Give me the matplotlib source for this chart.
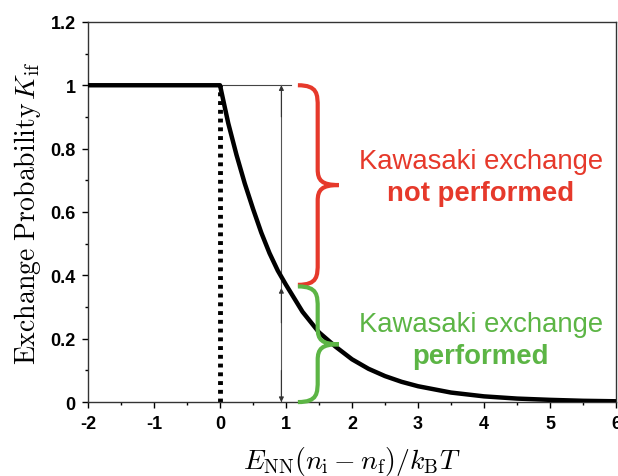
import numpy as np
import matplotlib
matplotlib.use('Agg')
import matplotlib.pyplot as plt
from matplotlib.path import Path
from matplotlib.patches import PathPatch
from matplotlib.ticker import MultipleLocator

plt.rcParams['mathtext.fontset'] = 'cm'
plt.rcParams['font.family'] = ['Liberation Sans', 'DejaVu Sans']

# Exchange probability vs. scaled energy change
energy = [-2.0, 0.0, 0.125, 0.25, 0.375, 0.5, 0.625, 0.75, 0.875, 1.0, 1.25, 1.5,
          1.75, 2.0, 2.25, 2.5, 2.75, 3.0, 3.5, 4.0, 4.5, 5.0, 5.5, 6.0]
prob = [1.0, 1.0, 0.88, 0.78, 0.69, 0.61, 0.535, 0.47, 0.415, 0.37, 0.285, 0.22,
        0.175, 0.135, 0.105, 0.082, 0.064, 0.05, 0.03, 0.018, 0.011, 0.007, 0.004, 0.0025]

# value where the exchange is cut off at E = 1
cut_value = 0.37
xticks = [-2, -1, 0, 1, 2, 3, 4, 5, 6]
yticks = [0, 0.2, 0.4, 0.6, 0.8, 1.0, 1.2]
ytick_labels = ['0', '0.2', '0.4', '0.6', '0.8', '1', '1.2']

red = '#e6392b'
green = '#5cb545'

fig = plt.figure(figsize=(6.18, 4.77), dpi=100)
ax = fig.add_axes([0.1424, 0.155, 0.8544, 0.797])

ax.plot(energy, prob, color='black', lw=3.2, solid_capstyle='butt', zorder=3)
ax.plot([0, 0], [0, 1], color='black', lw=3.5, linestyle=(0, (0.8, 1.0)), zorder=2)

# thin guide line and arrows
ax.plot([0, 1.08], [1, 1], color='#444444', lw=0.8)
ax.plot([0.93, 0.93], [0, 1], color='#555555', lw=0.8)
arrow_kw = dict(arrowstyle='-|>', color='#333333', lw=0.8, mutation_scale=7,
                shrinkA=0, shrinkB=0)
ax.annotate('', xy=(0.93, 1.0), xytext=(0.93, 0.9), arrowprops=arrow_kw)
ax.annotate('', xy=(0.93, cut_value - 0.01), xytext=(0.93, 0.25), arrowprops=arrow_kw)
ax.annotate('', xy=(0.93, 0.0), xytext=(0.93, 0.1), arrowprops=arrow_kw)


def brace(ax, top, bot, color, x0=1.18, xb=1.48, xt=1.80, bend=0.07, tip=0.05):
    mid = (top + bot) / 2
    verts = [(x0, top),
             (xb, top), (xb, top - bend * 0.4), (xb, top - bend),
             (xb, mid + tip),
             (xb, mid + tip * 0.3), (xb + 0.06, mid), (xt, mid),
             (xb + 0.06, mid), (xb, mid - tip * 0.3), (xb, mid - tip),
             (xb, bot + bend),
             (xb, bot + bend * 0.4), (xb, bot), (x0, bot)]
    codes = [Path.MOVETO,
             Path.CURVE4, Path.CURVE4, Path.CURVE4,
             Path.LINETO,
             Path.CURVE4, Path.CURVE4, Path.CURVE4,
             Path.CURVE4, Path.CURVE4, Path.CURVE4,
             Path.LINETO,
             Path.CURVE4, Path.CURVE4, Path.CURVE4]
    ax.add_patch(PathPatch(Path(verts, codes), facecolor='none', edgecolor=color,
                           lw=3.0, zorder=4, clip_on=False))


brace(ax, 1.0, cut_value, red)
brace(ax, cut_value - 0.005, 0.0, green)

ax.text(3.95, 0.76, 'Kawasaki exchange', color=red, fontsize=19.8, ha='center', va='center')
ax.text(3.95, 0.66, 'not performed', color=red, fontsize=19.8, fontweight='bold',
        ha='center', va='center')
ax.text(3.95, 0.245, 'Kawasaki exchange', color=green, fontsize=19.8, ha='center', va='center')
ax.text(3.95, 0.145, 'performed', color=green, fontsize=19.8, fontweight='bold',
        ha='center', va='center')

ax.set_xlim(-2, 6)
ax.set_ylim(0, 1.2)
ax.set_xticks(xticks)
ax.set_xticklabels([str(t) for t in xticks])
ax.set_yticks(yticks)
ax.set_yticklabels(ytick_labels)
ax.xaxis.set_minor_locator(MultipleLocator(0.5))
ax.yaxis.set_minor_locator(MultipleLocator(0.1))
ax.tick_params(which='major', direction='out', length=4, width=1, labelsize=13, pad=5)
ax.tick_params(which='minor', direction='out', length=2.5, width=1)
for lab in ax.get_xticklabels() + ax.get_yticklabels():
    lab.set_fontweight('bold')
for sp in ax.spines.values():
    sp.set_linewidth(1.0)
    sp.set_color('#333333')

ax.set_xlabel(r'$E_{\mathrm{NN}}(n_{\mathrm{i}}-n_{\mathrm{f}})/k_{\mathrm{B}}T$', fontsize=20, labelpad=9)
ax.set_ylabel(r'$\mathrm{Exchange\ Probability}\,K_{\mathrm{if}}$', fontsize=20, labelpad=5)

fig.savefig('out.png', dpi=100)
